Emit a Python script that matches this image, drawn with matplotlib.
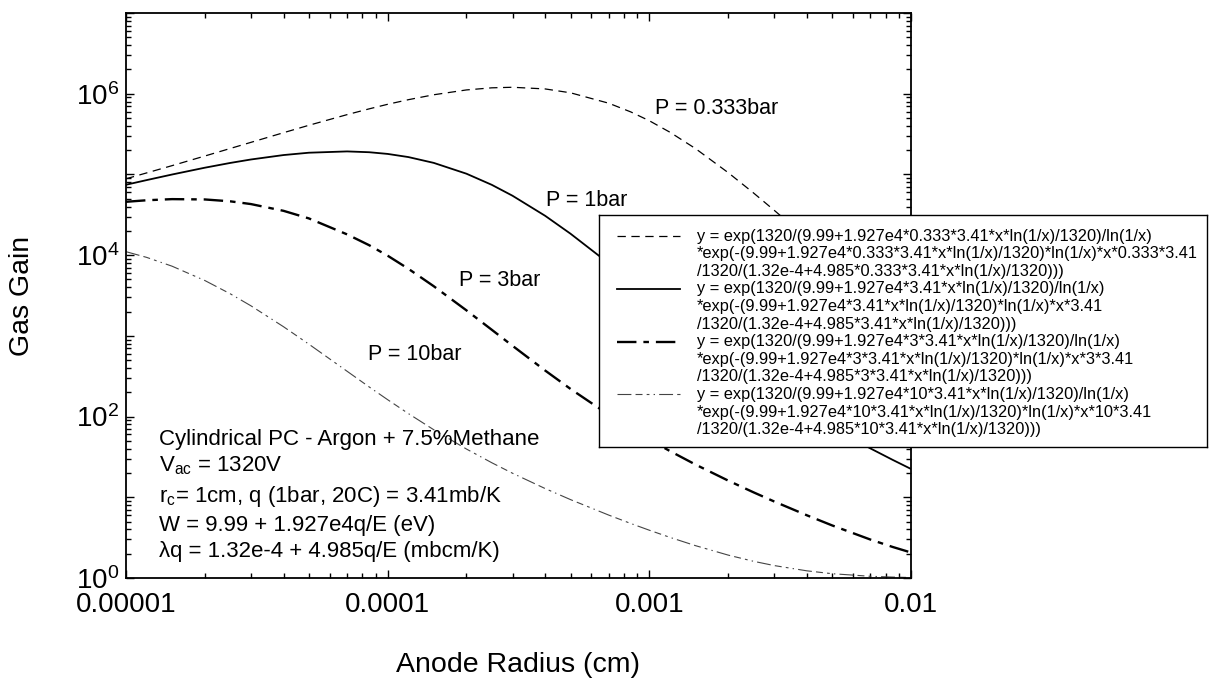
import matplotlib
matplotlib.use("Agg")
import matplotlib.pyplot as plt
from matplotlib.ticker import FixedLocator, FuncFormatter, LogLocator, NullFormatter
import numpy as np

plt.rcParams['font.family'] = ['Liberation Sans', 'DejaVu Sans']
plt.rcParams['mathtext.fontset'] = 'custom'
plt.rcParams['mathtext.rm'] = 'Liberation Sans'
plt.rcParams['mathtext.it'] = 'Liberation Sans:italic'
plt.rcParams['mathtext.bf'] = 'Liberation Sans:bold'
plt.rcParams['mathtext.default'] = 'rm'
plt.rcParams['lines.scale_dashes'] = False

# ---- data -------------------------------------------------------------
anode_radius = [1e-5, 1.2e-5, 1.5e-5, 2e-5, 2.5e-5, 3e-5, 4e-5, 5e-5, 7e-5, 8.5e-5,
                1e-4, 1.2e-4, 1.5e-4, 2e-4, 2.5e-4, 3e-4, 4e-4, 5e-4, 7e-4, 8.5e-4,
                1e-3, 1.2e-3, 1.5e-3, 2e-3, 2.5e-3, 3e-3, 4e-3, 5e-3, 7e-3, 8.5e-3,
                1e-2]

gain_p0333 = [8.83e4, 1.045e5, 1.285e5, 1.69e5, 2.094e5, 2.495e5, 3.289e5, 4.064e5,
              5.508e5, 6.494e5, 7.396e5, 8.433e5, 9.705e5, 1.114e6, 1.183e6, 1.202e6,
              1.146e6, 1.026e6, 7.621e5, 5.943e5, 4.624e5, 3.327e5, 2.094e5, 1.054e5,
              5.902e4, 3.597e4, 1.618e4, 8.75e3, 3.589e3, 2.213e3, 1.503e3]
gain_p1 = [7.447e4, 8.511e4, 9.977e4, 1.211e5, 1.387e5, 1.531e5, 1.738e5, 1.858e5,
           1.928e5, 1.884e5, 1.795e5, 1.641e5, 1.39e5, 1.021e5, 7.43e4, 5.445e4,
           3.069e4, 1.841e4, 7.907e3, 4.732e3, 3.062e3, 1.879e3, 1.05e3, 511.7,
           303.4, 202.3, 111.9, 73.11, 40.27, 29.14, 22.44]
gain_p3 = [4.581e4, 4.786e4, 4.943e4, 4.898e4, 4.645e4, 4.295e4, 3.54e4, 2.851e4,
           1.807e4, 1.327e4, 9.84e3, 6.776e3, 4.121e3, 2.07e3, 1.189e3, 753.4,
           371.5, 219.8, 105.2, 70.96, 51.88, 37.33, 25.47, 16.11,
           11.53, 8.872, 5.984, 4.477, 2.992, 2.427, 2.07]
gain_p10 = [1.104e4, 9.376e3, 7.295e3, 4.853e3, 3.327e3, 2.36e3, 1.297e3, 788.9,
            363.9, 232.8, 161.8, 108.9, 68.71, 39.63, 26.79, 19.86,
            12.82, 9.354, 6.012, 4.732, 3.908, 3.184, 2.518, 1.923,
            1.611, 1.426, 1.227, 1.13, 1.05, 1.026, 1.014]

pressure_labels = ["P = 0.333bar", "P = 1bar", "P = 3bar", "P = 10bar"]

fit_labels = [
    ["y = exp(1320/(9.99+1.927e4*0.333*3.41*x*ln(1/x)/1320)/ln(1/x)",
     "*exp(-(9.99+1.927e4*0.333*3.41*x*ln(1/x)/1320)*ln(1/x)*x*0.333*3.41",
     "/1320/(1.32e-4+4.985*0.333*3.41*x*ln(1/x)/1320)))"],
    ["y = exp(1320/(9.99+1.927e4*3.41*x*ln(1/x)/1320)/ln(1/x)",
     "*exp(-(9.99+1.927e4*3.41*x*ln(1/x)/1320)*ln(1/x)*x*3.41",
     "/1320/(1.32e-4+4.985*3.41*x*ln(1/x)/1320)))"],
    ["y = exp(1320/(9.99+1.927e4*3*3.41*x*ln(1/x)/1320)/ln(1/x)",
     "*exp(-(9.99+1.927e4*3*3.41*x*ln(1/x)/1320)*ln(1/x)*x*3*3.41",
     "/1320/(1.32e-4+4.985*3*3.41*x*ln(1/x)/1320)))"],
    ["y = exp(1320/(9.99+1.927e4*10*3.41*x*ln(1/x)/1320)/ln(1/x)",
     "*exp(-(9.99+1.927e4*10*3.41*x*ln(1/x)/1320)*ln(1/x)*x*10*3.41",
     "/1320/(1.32e-4+4.985*10*3.41*x*ln(1/x)/1320)))"],
]

info_lines = [
    "Cylindrical PC - Argon + 7.5%Methane",
    "V$_{ac}$ = 1320V",
    "r$_{c}$= 1cm, q (1bar, 20C) = 3.41mb/K",
    "W = 9.99 + 1.927e4q/E (eV)",
    "\u03bbq = 1.32e-4 + 4.985q/E (mbcm/K)",
]

xtick_values = [1e-5, 1e-4, 1e-3, 1e-2]
xtick_labels = ["0.00001", "0.0001", "0.001", "0.01"]
ytick_values = [1, 1e2, 1e4, 1e6]
ytick_labels = ["$10^{0}$", "$10^{2}$", "$10^{4}$", "$10^{6}$"]

# ---- figure layout (pixels) -------------------------------------------
W, H = 1209, 679
AX_L, AX_R, AX_T, AX_B = 126, 911, 13, 578

fig = plt.figure(figsize=(W / 100, H / 100), dpi=100)
fig.patch.set_facecolor('white')
ax = fig.add_axes([AX_L / W, 1 - AX_B / H, (AX_R - AX_L) / W, (AX_B - AX_T) / H])


def axfrac(px, py):
    """Pixel position in the figure -> axes fraction."""
    return (px - AX_L) / (AX_R - AX_L), (AX_B - py) / (AX_B - AX_T)


series = [gain_p0333, gain_p1, gain_p3, gain_p10]
styles = [
    dict(color='black', lw=0.9, dashes=(6, 4)),
    dict(color='black', lw=1.3, linestyle='-'),
    dict(color='black', lw=1.7, dashes=(14, 5, 4, 5)),
    dict(color='#444444', lw=0.8, dashes=(10, 3, 5, 3, 2, 3, 1, 3)),
]

for gains, st in zip(series, styles):
    ax.plot(anode_radius, gains, **st)

ax.set_xscale('log')
ax.set_yscale('log')
ax.set_xlim(1e-5, 1e-2)
ax.set_ylim(1, 1e7)

# ticks
xlab = dict(zip(xtick_values, xtick_labels))
ax.xaxis.set_major_locator(FixedLocator(xtick_values))
ax.xaxis.set_major_formatter(FuncFormatter(
    lambda v, p: next((t for k, t in xlab.items() if np.isclose(v, k)), "")))
ax.xaxis.set_minor_locator(LogLocator(base=10, subs=np.arange(2, 10), numticks=20))
ax.xaxis.set_minor_formatter(NullFormatter())

ylab = dict(zip(ytick_values, ytick_labels))
ax.yaxis.set_major_locator(FixedLocator([10.0 ** e for e in range(0, 8)]))
ax.yaxis.set_major_formatter(FuncFormatter(
    lambda v, p: next((t for k, t in ylab.items() if np.isclose(v, k)), "")))
ax.yaxis.set_minor_locator(LogLocator(base=10, subs=np.arange(2, 10), numticks=20))
ax.yaxis.set_minor_formatter(NullFormatter())

ax.tick_params(which='both', direction='in', top=True, right=True,
               color='black', width=1.0)
ax.tick_params(which='major', length=6)
ax.tick_params(which='minor', length=3.5)
ax.tick_params(axis='x', which='major', labelsize=20, pad=10)
ax.tick_params(axis='y', which='major', labelsize=20, pad=5)

for sp in ax.spines.values():
    sp.set_linewidth(1.3)
    sp.set_color('black')

# axis titles
ax.set_xlabel("Anode Radius (cm)", fontsize=20.5)
ax.xaxis.label.set_va('center')
ax.xaxis.set_label_coords(0.5, axfrac(0, 665)[1])
ax.set_ylabel("Gas Gain", fontsize=20.5)
ax.yaxis.label.set_va('center')
ax.yaxis.set_label_coords(axfrac(22, 0)[0], 0.5)

# curve labels
label_pos = [(655, 108), (546, 200), (459, 281), (368, 355)]
for txt, (px, py) in zip(pressure_labels, label_pos):
    ax.text(*axfrac(px, py), txt, transform=ax.transAxes, fontsize=15.5,
            ha='left', va='center')

# parameter block
info_base = [445, 471, 502, 531, 557]
for txt, py in zip(info_lines, info_base):
    ax.text(*axfrac(159, py), txt, transform=ax.transAxes, fontsize=16,
            ha='left', va='baseline')

# ---- legend box with fit expressions ---------------------------------
LG_L, LG_R, LG_T, LG_B = 599, 1207, 215, 447
lg = fig.add_axes([LG_L / W, 1 - LG_B / H, (LG_R - LG_L) / W, (LG_B - LG_T) / H],
                  zorder=5)
lg.set_xlim(0, LG_R - LG_L)
lg.set_ylim(LG_B - LG_T, 0)
lg.set_xticks([])
lg.set_yticks([])
lg.set_facecolor('white')
for sp in lg.spines.values():
    sp.set_linewidth(1.0)
    sp.set_color('black')

row_h = 17.6
row0 = 21
for i, (rows, st) in enumerate(zip(fit_labels, styles)):
    y0 = row0 + 3 * i * row_h
    lg.plot([18, 81], [y0, y0], **st)
    for j, row in enumerate(rows):
        lg.text(98, y0 + j * row_h, row, fontsize=11.8, ha='left', va='center')

fig.savefig("out.png", dpi=100)
